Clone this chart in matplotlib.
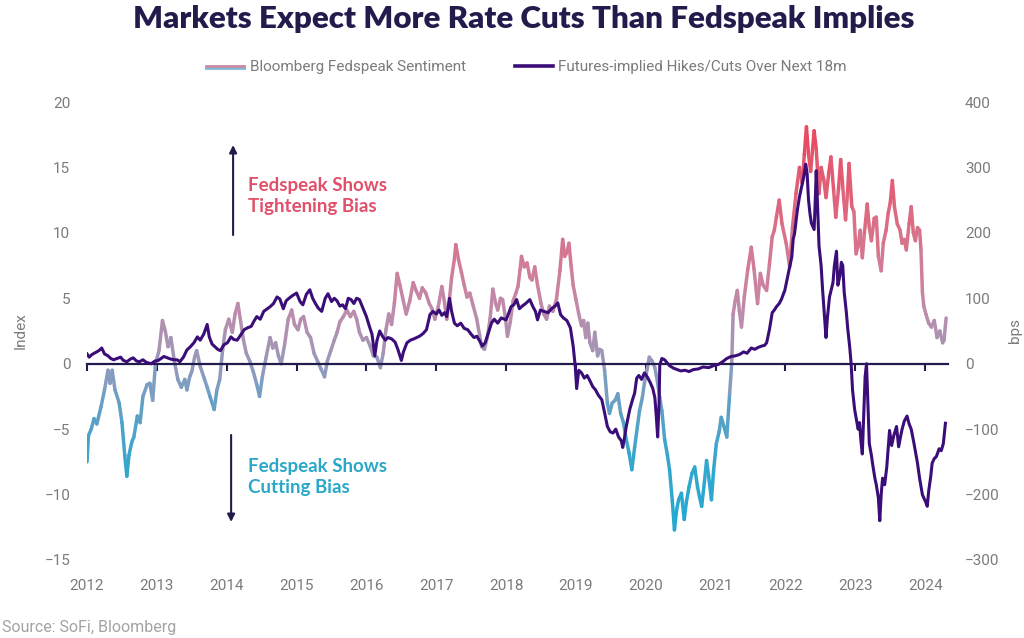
import numpy as np
import matplotlib
matplotlib.use("Agg")
import matplotlib.pyplot as plt
from matplotlib.collections import LineCollection
from matplotlib.colors import LinearSegmentedColormap, Normalize
from matplotlib.lines import Line2D
import matplotlib.patheffects as pe

# ---------------- data (decimal year, value) ----------------
fedspeak_sentiment = [
    (2012.00, -7.5), (2012.02, -5.5), (2012.06, -5.0), (2012.10, -4.2), (2012.14, -4.6),
    (2012.20, -3.3), (2012.25, -2.0), (2012.30, -0.5), (2012.33, -1.5), (2012.36, -0.5),
    (2012.40, -2.0), (2012.46, -3.0), (2012.50, -4.5), (2012.54, -7.0), (2012.57, -8.6),
    (2012.60, -7.0), (2012.64, -6.0), (2012.67, -5.6), (2012.72, -4.0), (2012.76, -4.5),
    (2012.80, -2.5), (2012.86, -1.6), (2012.90, -1.5), (2012.94, -2.8), (2012.98, 0.0),
    (2013.03, 1.0), (2013.08, 3.3), (2013.12, 2.5), (2013.16, 1.3), (2013.20, 2.0),
    (2013.25, 0.2), (2013.30, -1.2), (2013.35, -1.8), (2013.40, -1.2), (2013.43, -2.0),
    (2013.47, -1.0), (2013.50, -0.6), (2013.54, 0.5), (2013.57, 1.0), (2013.62, -0.2),
    (2013.67, -1.0), (2013.72, -1.8), (2013.76, -2.5), (2013.82, -3.5), (2013.86, -2.0),
    (2013.90, -1.2), (2013.94, 1.0), (2013.98, 2.6), (2014.03, 3.4), (2014.08, 2.4),
    (2014.12, 3.8), (2014.16, 4.6), (2014.20, 3.2), (2014.24, 1.8), (2014.28, 0.8),
    (2014.33, 0.2), (2014.38, -0.6), (2014.43, -1.6), (2014.47, -2.5), (2014.51, -1.0),
    (2014.56, 0.4), (2014.62, 2.0), (2014.66, 1.2), (2014.70, 1.6), (2014.74, 0.6),
    (2014.78, 0.0), (2014.83, 1.5), (2014.88, 3.4), (2014.93, 4.1), (2014.97, 3.0),
    (2015.02, 2.6), (2015.06, 3.4), (2015.10, 3.6), (2015.15, 2.4), (2015.20, 2.0),
    (2015.25, 0.8), (2015.30, 0.2), (2015.35, -0.4), (2015.40, -1.0), (2015.44, 0.2),
    (2015.49, 1.0), (2015.54, 1.8), (2015.58, 2.4), (2015.62, 3.2), (2015.67, 3.6),
    (2015.72, 4.1), (2015.77, 3.6), (2015.82, 4.0), (2015.86, 3.4), (2015.90, 2.4),
    (2015.95, 1.8), (2016.00, 2.0), (2016.05, 1.4), (2016.10, 0.6), (2016.15, 0.5),
    (2016.20, -0.3), (2016.24, 0.8), (2016.28, 2.6), (2016.32, 3.8), (2016.36, 3.0),
    (2016.40, 4.6), (2016.44, 6.9), (2016.48, 6.0), (2016.52, 5.0), (2016.57, 3.8),
    (2016.62, 4.8), (2016.67, 6.2), (2016.71, 5.6), (2016.76, 5.0), (2016.80, 5.8),
    (2016.85, 5.4), (2016.90, 4.6), (2016.94, 4.2), (2016.98, 3.4), (2017.03, 4.4),
    (2017.08, 5.9), (2017.12, 4.6), (2017.15, 3.4), (2017.19, 5.0), (2017.22, 6.6),
    (2017.26, 8.0), (2017.28, 9.1), (2017.32, 7.9), (2017.36, 7.0), (2017.40, 6.0),
    (2017.44, 5.1), (2017.48, 5.4), (2017.53, 4.4), (2017.58, 3.4), (2017.62, 2.2),
    (2017.65, 1.3), (2017.69, 1.1), (2017.73, 2.0), (2017.77, 3.4), (2017.81, 5.7),
    (2017.85, 4.6), (2017.88, 4.1), (2017.92, 5.0), (2017.95, 4.9), (2017.99, 3.5),
    (2018.02, 2.1), (2018.06, 3.2), (2018.10, 4.8), (2018.14, 5.4), (2018.17, 5.9),
    (2018.20, 7.2), (2018.22, 8.2), (2018.26, 7.4), (2018.30, 7.7), (2018.34, 6.6),
    (2018.37, 6.4), (2018.41, 7.4), (2018.45, 6.0), (2018.50, 4.6), (2018.54, 3.8),
    (2018.58, 3.4), (2018.62, 4.4), (2018.67, 4.0), (2018.72, 4.9), (2018.77, 7.1),
    (2018.81, 9.5), (2018.84, 8.2), (2018.87, 8.5), (2018.90, 9.2), (2018.93, 7.5),
    (2018.96, 6.0), (2019.00, 4.9), (2019.04, 3.8), (2019.08, 2.9), (2019.11, 3.3),
    (2019.14, 2.0), (2019.17, 3.1), (2019.20, 1.6), (2019.24, 1.0), (2019.27, 2.4),
    (2019.31, 0.6), (2019.34, 1.1), (2019.37, 1.0), (2019.41, -0.5), (2019.45, -3.0),
    (2019.48, -3.8), (2019.52, -3.0), (2019.56, -2.8), (2019.60, -2.3), (2019.64, -3.8),
    (2019.68, -4.5), (2019.72, -5.8), (2019.76, -6.8), (2019.80, -8.1), (2019.84, -6.4),
    (2019.88, -4.8), (2019.91, -3.6), (2019.95, -2.6), (2019.98, -1.5), (2020.02, -0.4),
    (2020.05, 0.5), (2020.09, 0.2), (2020.13, -0.3), (2020.17, -1.5), (2020.20, -2.6),
    (2020.23, -3.6), (2020.27, -5.8), (2020.31, -7.0), (2020.34, -8.1), (2020.38, -10.5),
    (2020.41, -12.7), (2020.44, -11.2), (2020.47, -10.4), (2020.51, -9.9), (2020.55, -11.9),
    (2020.58, -10.6), (2020.62, -9.4), (2020.66, -8.4), (2020.70, -7.9), (2020.74, -9.4),
    (2020.77, -10.2), (2020.80, -10.9), (2020.84, -9.0), (2020.87, -7.4), (2020.90, -8.6),
    (2020.94, -10.4), (2020.97, -8.2), (2021.01, -6.1), (2021.05, -5.2), (2021.08, -4.1),
    (2021.12, -4.8), (2021.16, -5.6), (2021.20, -2.3), (2021.23, 0.0), (2021.25, 3.8),
    (2021.28, 4.8), (2021.31, 5.6), (2021.34, 4.0), (2021.37, 2.8), (2021.41, 5.1),
    (2021.46, 7.2), (2021.51, 8.9), (2021.55, 7.2), (2021.60, 4.6), (2021.64, 6.9),
    (2021.68, 6.0), (2021.73, 5.6), (2021.77, 7.6), (2021.81, 9.7), (2021.84, 10.2),
    (2021.87, 11.2), (2021.91, 12.5), (2021.95, 10.7), (2022.01, 9.2), (2022.06, 7.4),
    (2022.10, 10.4), (2022.15, 13.0), (2022.20, 15.0), (2022.24, 13.8), (2022.27, 16.0),
    (2022.30, 18.1), (2022.33, 16.0), (2022.36, 14.7), (2022.39, 16.5), (2022.41, 17.8),
    (2022.44, 16.4), (2022.48, 13.0), (2022.51, 15.0), (2022.55, 14.0), (2022.58, 12.7),
    (2022.62, 14.6), (2022.65, 15.8), (2022.69, 13.2), (2022.72, 11.2), (2022.76, 13.4),
    (2022.79, 15.6), (2022.82, 13.5), (2022.86, 11.0), (2022.89, 13.2), (2022.91, 15.3),
    (2022.95, 12.0), (2022.98, 11.6), (2023.01, 8.4), (2023.04, 9.0), (2023.07, 10.2),
    (2023.10, 8.1), (2023.13, 10.0), (2023.17, 12.2), (2023.20, 10.4), (2023.23, 9.4),
    (2023.27, 11.1), (2023.30, 11.2), (2023.33, 8.2), (2023.37, 7.1), (2023.40, 9.2),
    (2023.44, 10.2), (2023.47, 11.5), (2023.50, 12.3), (2023.53, 14.0), (2023.56, 12.0),
    (2023.60, 10.7), (2023.64, 10.2), (2023.67, 9.2), (2023.70, 9.5), (2023.73, 8.7),
    (2023.77, 10.7), (2023.80, 12.0), (2023.83, 10.0), (2023.86, 9.4), (2023.89, 10.4),
    (2023.92, 10.2), (2023.94, 8.7), (2023.96, 5.5), (2023.98, 4.4), (2024.01, 3.8),
    (2024.05, 3.1), (2024.09, 2.8), (2024.13, 3.3), (2024.17, 2.0), (2024.21, 2.5),
    (2024.25, 1.6), (2024.27, 1.8), (2024.30, 3.5),
]

futures_implied_bps = [
    (2012.00, 15), (2012.03, 10), (2012.07, 14), (2012.12, 17), (2012.17, 20),
    (2012.21, 24), (2012.25, 15), (2012.30, 12), (2012.34, 8), (2012.38, 6),
    (2012.43, 8), (2012.48, 10), (2012.52, 5), (2012.57, 3), (2012.62, 7),
    (2012.66, 9), (2012.71, 4), (2012.75, 3), (2012.80, 6), (2012.85, 2),
    (2012.92, 0), (2012.97, 4), (2013.02, 5), (2013.06, 8), (2013.10, 11),
    (2013.15, 9), (2013.20, 7), (2013.25, 6), (2013.29, 6), (2013.33, 3),
    (2013.38, 10), (2013.43, 21), (2013.48, 26), (2013.53, 32), (2013.58, 41),
    (2013.62, 36), (2013.67, 45), (2013.72, 60), (2013.75, 41), (2013.79, 30),
    (2013.82, 27), (2013.87, 22), (2013.91, 20), (2013.96, 29), (2014.01, 32),
    (2014.06, 41), (2014.10, 37), (2014.15, 36), (2014.20, 44), (2014.25, 52),
    (2014.30, 55), (2014.35, 57), (2014.39, 65), (2014.43, 72), (2014.48, 68),
    (2014.53, 80), (2014.58, 84), (2014.62, 87), (2014.67, 92), (2014.72, 102),
    (2014.76, 99), (2014.81, 84), (2014.85, 96), (2014.88, 99), (2014.94, 104),
    (2015.00, 108), (2015.05, 95), (2015.09, 90), (2015.14, 106), (2015.19, 113),
    (2015.23, 100), (2015.27, 92), (2015.31, 85), (2015.36, 80), (2015.41, 100),
    (2015.45, 107), (2015.50, 95), (2015.54, 100), (2015.58, 96), (2015.62, 88),
    (2015.66, 90), (2015.70, 84), (2015.74, 100), (2015.78, 98), (2015.82, 92),
    (2015.86, 100), (2015.90, 98), (2015.95, 85), (2016.00, 72), (2016.04, 58),
    (2016.08, 45), (2016.12, 12), (2016.15, 35), (2016.19, 50), (2016.23, 42),
    (2016.27, 36), (2016.31, 40), (2016.36, 38), (2016.41, 33), (2016.45, 22),
    (2016.50, 5), (2016.53, 18), (2016.58, 32), (2016.63, 36), (2016.68, 38),
    (2016.72, 40), (2016.76, 42), (2016.81, 46), (2016.86, 52), (2016.91, 75),
    (2016.95, 80), (2017.00, 76), (2017.04, 82), (2017.08, 74), (2017.12, 78),
    (2017.15, 72), (2017.19, 100), (2017.22, 80), (2017.26, 62), (2017.30, 58),
    (2017.35, 62), (2017.40, 54), (2017.45, 52), (2017.50, 45), (2017.54, 40),
    (2017.58, 42), (2017.62, 35), (2017.66, 27), (2017.70, 32), (2017.74, 45),
    (2017.79, 62), (2017.83, 68), (2017.88, 62), (2017.93, 70), (2018.00, 67),
    (2018.04, 78), (2018.07, 87), (2018.11, 90), (2018.15, 98), (2018.19, 84),
    (2018.23, 88), (2018.28, 92), (2018.34, 98), (2018.38, 88), (2018.42, 80),
    (2018.45, 67), (2018.49, 82), (2018.54, 80), (2018.60, 78), (2018.65, 84),
    (2018.70, 88), (2018.74, 93), (2018.78, 75), (2018.82, 70), (2018.87, 66),
    (2018.92, 55), (2018.96, 27), (2018.99, -4), (2019.01, -38), (2019.04, -10),
    (2019.08, -14), (2019.12, -22), (2019.16, -18), (2019.20, -26), (2019.24, -35),
    (2019.28, -40), (2019.32, -48), (2019.37, -55), (2019.41, -75), (2019.45, -96),
    (2019.49, -104), (2019.53, -106), (2019.57, -100), (2019.61, -112), (2019.65, -118),
    (2019.67, -128), (2019.70, -110), (2019.72, -96), (2019.75, -80), (2019.77, -70),
    (2019.81, -55), (2019.84, -45), (2019.87, -22), (2019.90, -18), (2019.94, -24),
    (2019.98, -14), (2020.02, -20), (2020.06, -28), (2020.10, -38), (2020.13, -52),
    (2020.15, -80), (2020.17, -112), (2020.19, -60), (2020.20, -2), (2020.23, 8),
    (2020.27, 6), (2020.30, 2), (2020.34, -3), (2020.40, -7), (2020.45, -9),
    (2020.50, -11), (2020.56, -10), (2020.62, -12), (2020.68, -9), (2020.75, -8),
    (2020.82, -5), (2020.90, -6), (2020.97, -3), (2021.04, -1), (2021.10, 3),
    (2021.16, 8), (2021.22, 11), (2021.28, 12), (2021.34, 14), (2021.40, 18),
    (2021.45, 16), (2021.51, 24), (2021.56, 22), (2021.61, 25), (2021.66, 27),
    (2021.70, 28), (2021.73, 32), (2021.77, 52), (2021.81, 78), (2021.84, 82),
    (2021.87, 87), (2021.91, 92), (2021.94, 98), (2021.99, 112), (2022.03, 133),
    (2022.06, 148), (2022.09, 163), (2022.11, 190), (2022.13, 199), (2022.17, 235),
    (2022.20, 255), (2022.23, 270), (2022.26, 285), (2022.29, 305), (2022.31, 290),
    (2022.33, 250), (2022.35, 230), (2022.37, 215), (2022.39, 210), (2022.41, 205),
    (2022.43, 260), (2022.44, 295), (2022.46, 240), (2022.48, 180), (2022.51, 150),
    (2022.53, 115), (2022.56, 70), (2022.58, 40), (2022.60, 70), (2022.63, 102),
    (2022.66, 115), (2022.68, 124), (2022.70, 150), (2022.73, 172), (2022.75, 120),
    (2022.78, 135), (2022.80, 155), (2022.82, 150), (2022.84, 110), (2022.87, 80),
    (2022.89, 55), (2022.92, 25), (2022.94, 0), (2022.96, -40), (2022.99, -70),
    (2023.01, -82), (2023.04, -100), (2023.06, -90), (2023.08, -118), (2023.10, -138),
    (2023.12, -80), (2023.14, -20), (2023.16, 0), (2023.18, -60), (2023.20, -122),
    (2023.23, -140), (2023.25, -155), (2023.28, -175), (2023.30, -185), (2023.33, -205),
    (2023.35, -240), (2023.37, -200), (2023.39, -175), (2023.42, -185), (2023.45, -158),
    (2023.47, -130), (2023.49, -102), (2023.52, -125), (2023.55, -110), (2023.59, -96),
    (2023.62, -127), (2023.65, -110), (2023.67, -100), (2023.70, -88), (2023.74, -80),
    (2023.77, -92), (2023.80, -100), (2023.84, -122), (2023.87, -140), (2023.89, -152),
    (2023.92, -175), (2023.94, -188), (2023.96, -200), (2023.98, -205), (2024.01, -212),
    (2024.03, -218), (2024.05, -195), (2024.08, -172), (2024.10, -152), (2024.13, -145),
    (2024.16, -142), (2024.20, -130), (2024.23, -133), (2024.26, -122), (2024.29, -91),
]

year_ticks = list(range(2012, 2025))
index_ticks = [-15, -10, -5, 0, 5, 10, 15, 20]
bps_ticks = [-300, -200, -100, 0, 100, 200, 300, 400]

series_labels = ["Bloomberg Fedspeak Sentiment", "Futures-implied Hikes/Cuts Over Next 18m"]
title_text = "Markets Expect More Rate Cuts Than Fedspeak Implies"

# ---------------- styling ----------------
NARROW = ["Liberation Sans Narrow", "Roboto", "DejaVu Sans"]
HEAD = ["Lato", "DejaVu Sans"]
plt.rcParams["font.family"] = NARROW
GREY = "#7b7b7b"
NAVY = "#221c4c"
FUT_COLOR = "#3a0d78"

fed_cmap = LinearSegmentedColormap.from_list(
    "fed",
    [(0.00, "#1faad2"), (0.20, "#3aa6cc"), (0.33, "#6a9fc4"), (0.40, "#8e9bbf"),
     (0.45, "#a296b6"), (0.55, "#be8bab"), (0.65, "#d07e9a"), (0.78, "#dc6b82"),
     (1.00, "#e8485f")])
fed_norm = Normalize(vmin=-13, vmax=18)

fig = plt.figure(figsize=(10.24, 6.38), dpi=100)
ax = fig.add_axes([0.085, 0.1223, 0.841, 0.7178])
ax2 = ax.twinx()

# fedspeak line, coloured by level
fed_t, fed_v = map(np.array, zip(*fedspeak_sentiment))
pts = np.column_stack([fed_t, fed_v])
segs = np.stack([pts[:-1], pts[1:]], axis=1)
lc = LineCollection(segs, cmap=fed_cmap, norm=fed_norm, linewidths=2.5,
                    capstyle="round", joinstyle="round")
lc.set_array((fed_v[:-1] + fed_v[1:]) / 2)
ax.add_collection(lc)

# futures line
fut_t, fut_v = map(np.array, zip(*futures_implied_bps))
ax2.plot(fut_t, fut_v, color=FUT_COLOR, lw=2.2, solid_joinstyle="round")

ax.set_xlim(2012, 2024.33)
ax.set_ylim(-15, 20)
ax2.set_ylim(-300, 400)

for s in ["top", "left", "right"]:
    ax.spines[s].set_visible(False)
for s in ax2.spines.values():
    s.set_visible(False)
ax.spines["bottom"].set_position(("data", 0))
ax.spines["bottom"].set_color(NAVY)
ax.spines["bottom"].set_linewidth(1.6)

ax.set_xticks(year_ticks)
ax.tick_params(axis="x", length=5, width=1.5, color=NAVY, labelbottom=False)
sec = ax.secondary_xaxis("bottom")
sec.set_xticks(year_ticks)
sec.tick_params(length=0, pad=14, labelsize=11, labelcolor=GREY)
sec.spines["bottom"].set_visible(False)

ax.set_yticks(index_ticks)
ax.tick_params(axis="y", length=0, pad=12, labelsize=11, labelcolor=GREY)
ax2.set_yticks(bps_ticks)
ax2.tick_params(axis="y", length=0, pad=12, labelsize=11, labelcolor=GREY)
ax.set_ylabel("Index", fontsize=11, color=GREY, labelpad=12)
ax2.set_ylabel("bps", fontsize=11, color=GREY, labelpad=6, rotation=90)

# annotations
arrow_kw = dict(arrowstyle="-|>", color=NAVY, lw=1.5, mutation_scale=11,
                shrinkA=0, shrinkB=0)
ax.annotate("", xy=(0.1696, 0.906), xytext=(0.1696, 0.7096),
            xycoords="axes fraction", textcoords="axes fraction", arrowprops=arrow_kw)
ax.annotate("", xy=(0.1673, 0.083), xytext=(0.1673, 0.273),
            xycoords="axes fraction", textcoords="axes fraction", arrowprops=arrow_kw)
ax.text(0.187, 0.795, "Fedspeak Shows\nTightening Bias", transform=ax.transAxes,
        family=HEAD, fontsize=13.5, fontweight="bold", color="#e0506a",
        va="center", ha="left", linespacing=1.3)
ax.text(0.187, 0.181, "Fedspeak Shows\nCutting Bias", transform=ax.transAxes,
        family=HEAD, fontsize=13.5, fontweight="bold", color="#2ba8c8",
        va="center", ha="left", linespacing=1.3)

# title, legend, source
fig.text(0.511, 0.970, title_text, ha="center", va="center", family=HEAD,
         fontsize=22.5, fontweight="heavy", color=NAVY)

h1 = Line2D([], [], color="#c98aa3", lw=2.0,
            path_effects=[pe.SimpleLineShadow(offset=(0, -1.6), shadow_color="#7fb8d8", alpha=1),
                          pe.Normal()])
h2 = Line2D([], [], color=FUT_COLOR, lw=2.6)
fig.legend([h1, h2], series_labels, loc="center", bbox_to_anchor=(0.514, 0.895),
           ncol=2, frameon=False, fontsize=11, handlelength=2.5, handletextpad=0.35,
           columnspacing=3.2, labelcolor=GREY)

fig.text(0.002, 0.016, "Source: SoFi, Bloomberg", fontsize=11.5, color="#a3a3a3",
         ha="left", va="center")

fig.savefig("out.png", dpi=100)
